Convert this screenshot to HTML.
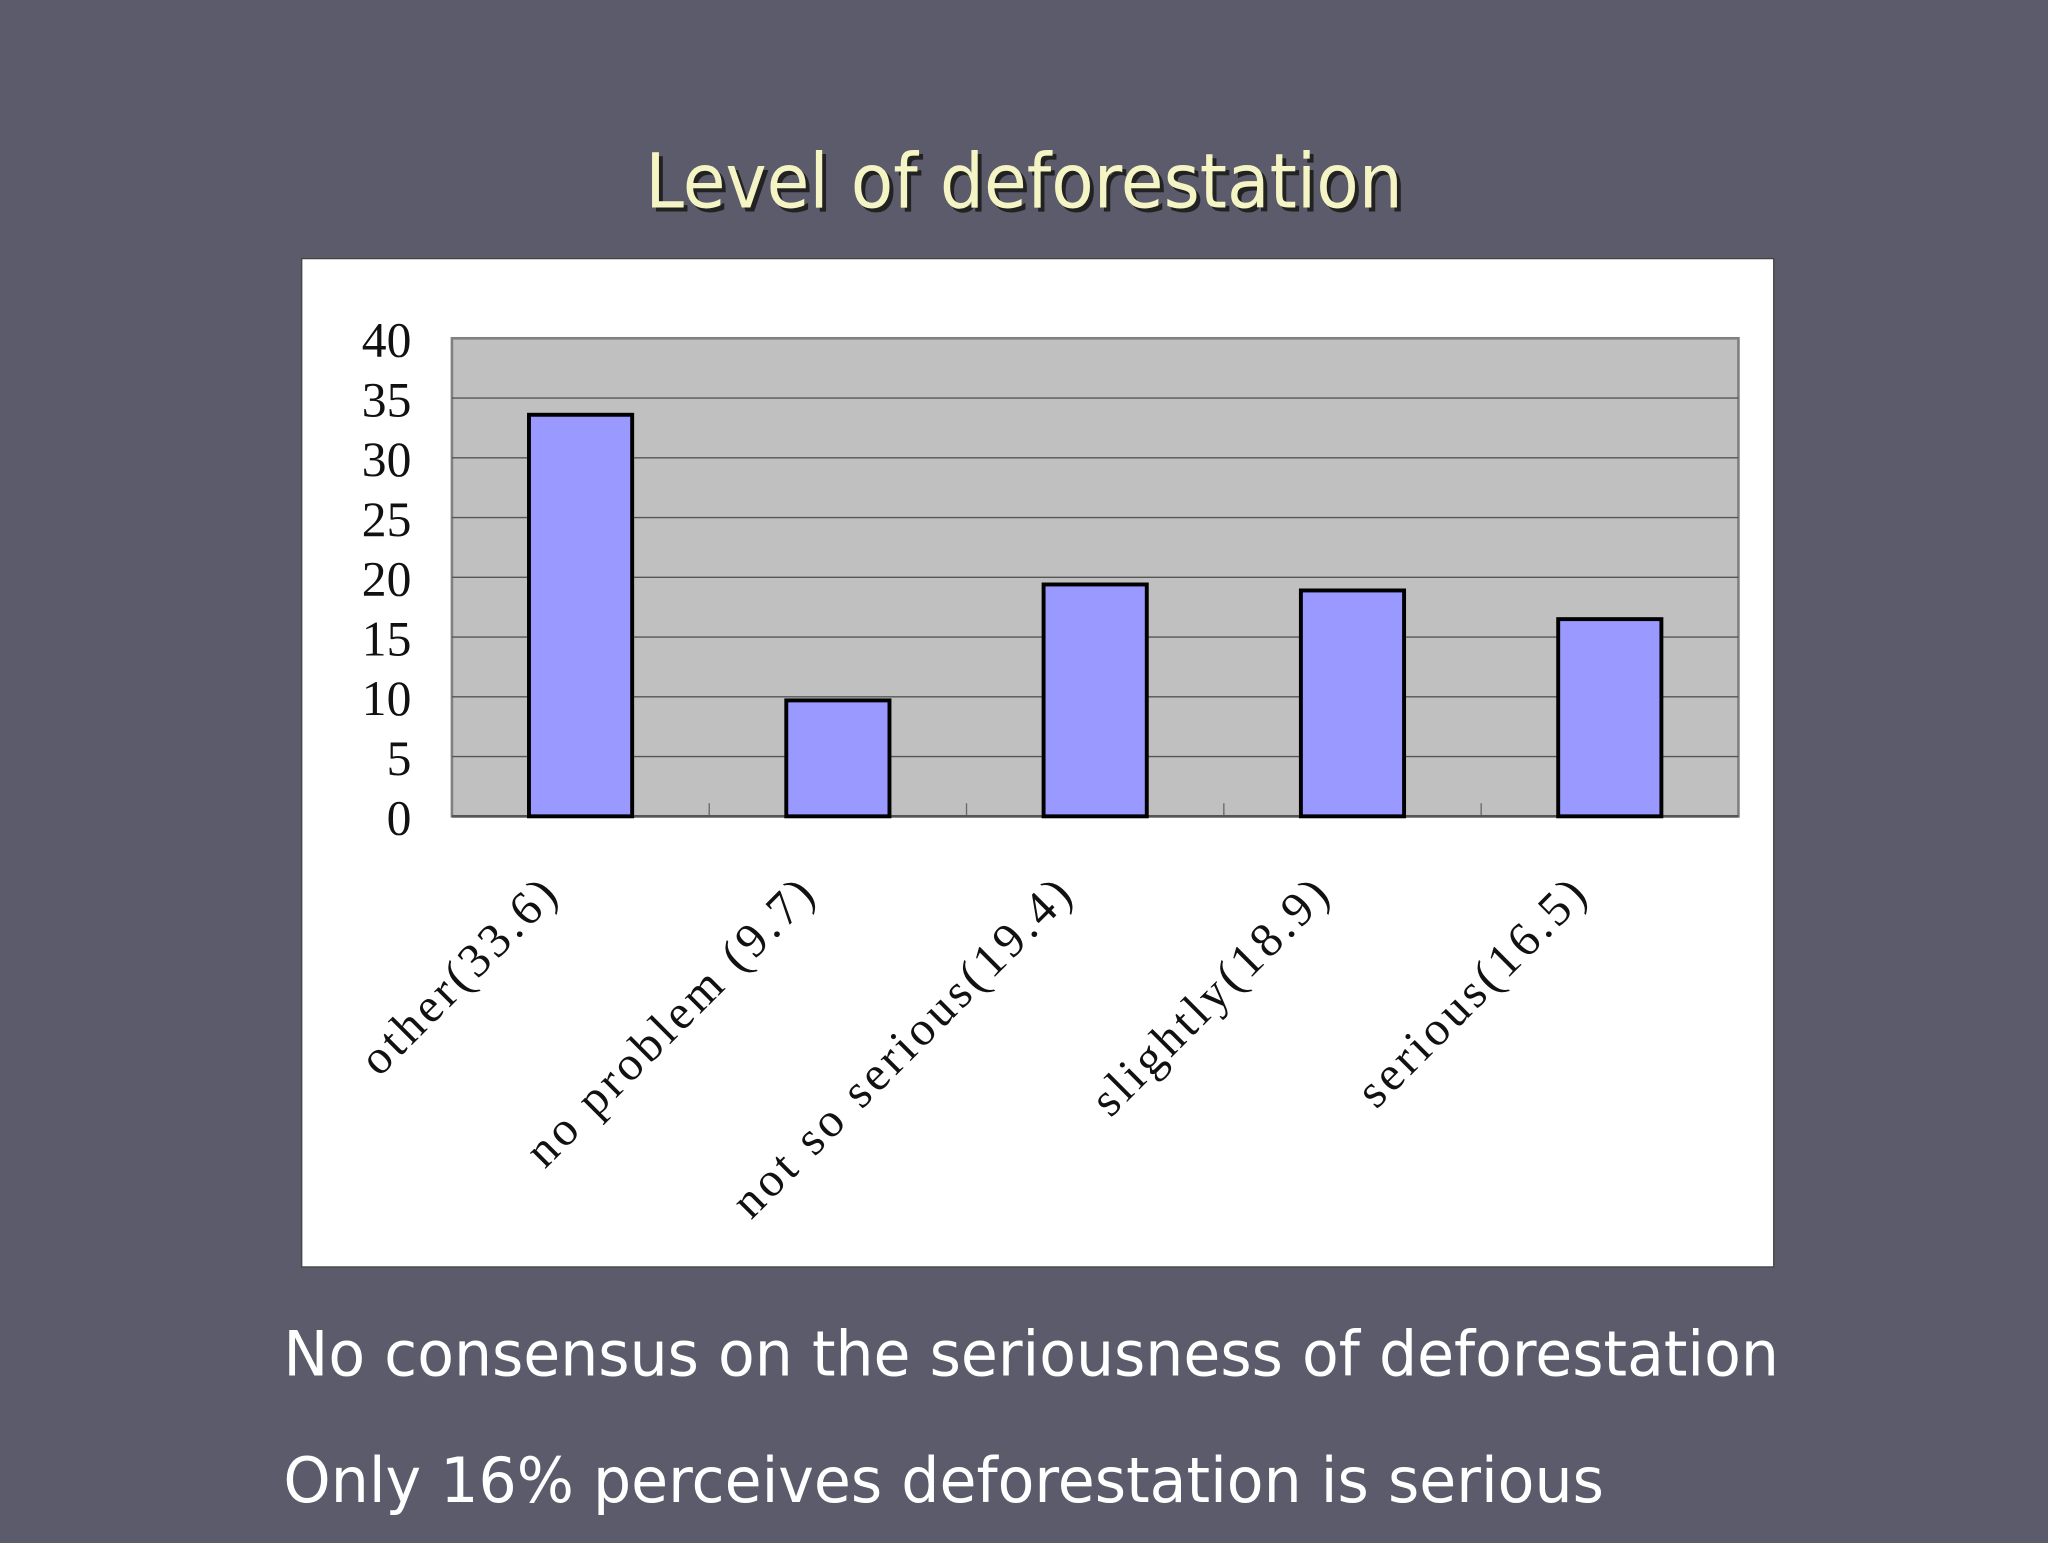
<!DOCTYPE html>
<html><head><meta charset="utf-8"><style>
html,body{margin:0;padding:0;width:2048px;height:1536px;overflow:hidden;background:#5b5b6b;}
#wrap{position:absolute;left:0;top:0;width:1568px;height:1176px;transform:scale(1.30612);transform-origin:0 0;}
</style></head><body>
<div id="wrap">
<svg width="1568" height="1176" xmlns="http://www.w3.org/2000/svg" id="svg">
<rect width="1568" height="1176" fill="#5b5b6b"/>
<text x="497" y="162" textLength="580" lengthAdjust="spacingAndGlyphs" font-family="'DejaVu Sans','Liberation Sans',sans-serif" font-size="58" fill="#222">Level of deforestation</text>
<text x="494" y="159" textLength="580" lengthAdjust="spacingAndGlyphs" font-family="'DejaVu Sans','Liberation Sans',sans-serif" font-size="58" fill="#f4f4c4">Level of deforestation</text>
<rect x="231" y="198" width="1127" height="772" fill="#fff" stroke="#444" stroke-width="1"/>
<rect x="346" y="259" width="985" height="366" fill="#c0c0c0" stroke="#808080" stroke-width="2"/>
<g id="grid"></g><g id="bars"></g><g id="ylab"></g><g id="xlab"></g>
<text x="217" y="1053" textLength="1145" lengthAdjust="spacingAndGlyphs" font-family="'DejaVu Sans','Liberation Sans',sans-serif" font-size="48" fill="#fff">No consensus on the seriousness of deforestation</text>
<text x="217" y="1150" textLength="1011" lengthAdjust="spacingAndGlyphs" font-family="'DejaVu Sans','Liberation Sans',sans-serif" font-size="48" fill="#fff">Only 16% perceives deforestation is serious</text>
</svg></div>
<script>
const categories=["other(33.6)","no problem (9.7)","not so serious(19.4)","slightly(18.9)","serious(16.5)"];
const values=[33.6,9.7,19.4,18.9,16.5];
const yTicks=[0,5,10,15,20,25,30,35,40];
const NS="http://www.w3.org/2000/svg";
const x0=346,x1=1331,yb=625,yt=259,ymax=40;
const y=v=>yb-(v/ymax)*(yb-yt);
const cw=(x1-x0)/categories.length;
const xc=i=>x0+cw*(i+0.5);
function mk(t,a,p){const e=document.createElementNS(NS,t);for(const k in a)e.setAttribute(k,a[k]);p.appendChild(e);return e;}
const g=document.getElementById('grid'),b=document.getElementById('bars'),yl=document.getElementById('ylab'),xl=document.getElementById('xlab');
yTicks.forEach(v=>{
 if(v>0&&v<ymax){const l=mk('line',{x1:x0,x2:x1,y1:y(v),y2:y(v),stroke:'#555','stroke-width':1},g);
 
 }
 const t=mk('text',{x:315,y:y(v)+14,'text-anchor':'end','font-family':"'Liberation Serif',serif",'font-size':38,fill:'#111'},yl);
 t.textContent=v;
 
 
});
for(let i=1;i<categories.length;i++){const l=mk('line',{x1:x0+cw*i,x2:x0+cw*i,y1:yb,y2:yb-10,stroke:'#666','stroke-width':1},g);
 
 }
mk('line',{x1:x0,x2:x1,y1:yb,y2:yb,stroke:'#555','stroke-width':2},g);
values.forEach((v,i)=>{
 const r=mk('rect',{x:xc(i)-39.5,y:y(v),width:79,height:yb-y(v),fill:'#9999ff',stroke:'#000','stroke-width':3},b);
 
 
});
categories.forEach((c,i)=>{
 const x=xc(i)-14,yy=685;
 const t=mk('text',{x:x,y:yy,'text-anchor':'end','letter-spacing':3,'font-family':"'Liberation Serif',serif",'font-size':37,fill:'#111',transform:`rotate(-45 ${x} ${yy})`},xl);
 t.textContent=c;
 
 
});
</script>
</body></html>
